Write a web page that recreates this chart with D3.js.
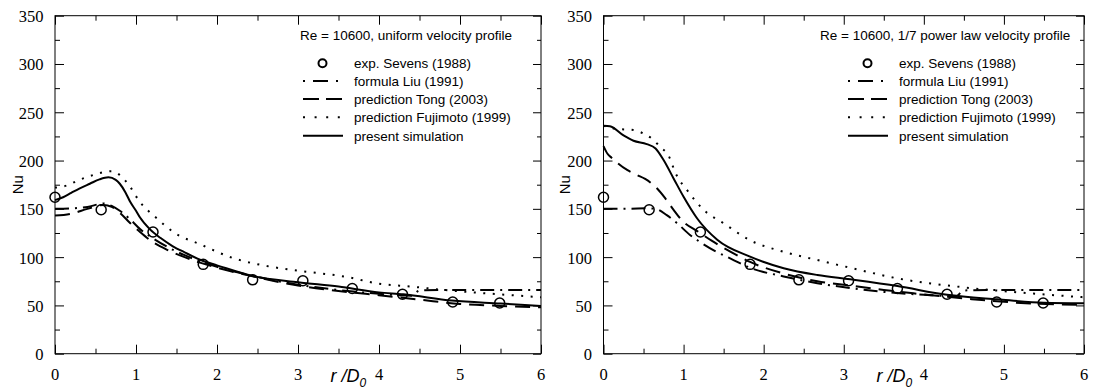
<!DOCTYPE html>
<html>
<head>
<meta charset="utf-8">
<script src="https://cdn.jsdelivr.net/npm/d3@7"></script>
<style>
  html, body { margin: 0; padding: 0; background: #fff; }
  svg { display: block; }
</style>
</head>
<body>
<svg id="chart" width="1093" height="391"></svg>
<script>
// ---------------- DATA ----------------
const xTickValues = [0, 1, 2, 3, 4, 5, 6];
const yTickValues = [0, 50, 100, 150, 200, 250, 300, 350];
const panelTitles = ["Re = 10600, uniform velocity profile", "Re = 10600, 1/7 power law velocity profile"];
const legendLabels = ["exp. Sevens (1988)", "formula Liu (1991)", "prediction Tong (2003)", "prediction Fujimoto (1999)", "present simulation"];

// experimental points (same in both panels)
const expR  = [0.0, 0.57, 1.21, 1.83, 2.44, 3.06, 3.67, 4.29, 4.91, 5.49];
const expNu = [162, 149, 126, 92.5, 76.5, 75.5, 67.5, 61.5, 53.5, 52.5];

// uniform velocity profile (left panel)
const uniLiu = [[0,150],[0.2,150.5],[0.4,152],[0.6,155.5],[0.7,153],[0.8,148],[0.93,139],[1.05,129],[1.2,120],[1.4,110],[1.6,102],[1.8,95.5],[2.0,90],[2.5,79.5],[3.0,71.5],[3.5,66],[4.0,62],[4.4,60],[4.5,65.5],[5.0,66],[6.0,66]];
const uniTong = [[0,143],[0.2,145],[0.4,150],[0.6,154],[0.7,152],[0.8,146],[0.93,135],[1.05,126],[1.2,116],[1.4,107],[1.6,100],[1.8,94],[2.0,89],[2.5,79],[3.0,70.5],[3.5,65],[4.0,60.5],[4.5,56],[5.0,51.5],[5.5,49.5],[6.0,48]];
const uniFuji = [[0,172],[0.14,174],[0.3,180],[0.47,185],[0.6,188],[0.7,189],[0.8,185],[0.9,176],[1.05,157],[1.26,140],[1.46,126],[1.8,113],[2.2,99],[2.6,91],[3.0,86],[3.6,79.5],[4.0,72.5],[4.4,69.5],[4.8,66],[5.4,62],[6.0,58.5]];
const uniSim = [[0,159],[0.1,162],[0.2,166.5],[0.3,171],[0.43,176],[0.55,180.5],[0.66,182.6],[0.75,180],[0.8,176],[0.87,167],[0.93,157],[1.0,148],[1.05,141],[1.17,129],[1.3,120],[1.45,111.5],[1.6,105],[1.83,96],[2.0,91.5],[2.44,80.5],[3.0,74],[3.5,69.5],[4.0,63.5],[4.3,61.5],[4.9,55],[5.5,52],[6.0,49.5]];

// 1/7 power law velocity profile (right panel)
const powLiu = [[0,150],[0.3,150],[0.55,150.5],[0.65,150],[0.79,143.5],[0.92,135],[1.08,123],[1.2,116],[1.4,106],[1.6,98],[1.83,89],[2.25,80],[2.67,73],[3.08,68],[3.5,64],[4.0,61],[4.4,59.5],[4.5,65.5],[5.0,66],[6.0,66]];
const powTong = [[0,215],[0.05,207],[0.1,203],[0.3,190],[0.42,185],[0.52,181],[0.67,171],[0.77,161],[0.875,149],[0.98,138],[1.17,127],[1.35,117],[1.6,105],[1.83,95],[2.25,83],[2.67,75],[3.08,70.5],[3.5,66],[3.87,62.5],[4.6,56.5],[5.33,52],[6.0,50.5]];
const powFuji = [[0,236],[0.15,233],[0.38,231.5],[0.5,228],[0.6,223],[0.71,214],[0.81,205.5],[0.9,187],[1.06,167.5],[1.25,149],[1.5,135],[1.83,117.5],[2.25,105.5],[2.67,97],[3.08,89],[3.67,78],[4.5,68.7],[5.33,62.5],[6.0,58.4]];
const powSim = [[0,236],[0.08,235.5],[0.25,226],[0.375,220.5],[0.54,217],[0.65,212.5],[0.75,200.5],[0.875,181.5],[1.0,162.5],[1.17,140],[1.42,118],[1.83,100.5],[2.25,88.5],[2.67,81.5],[3.08,77],[3.67,70],[4.29,61],[4.92,56.3],[5.5,52.8],[6.0,52.2]];

// ---------------- LAYOUT ----------------
const panels = [
  { x0: 55,    x1: 541,  title: panelTitles[0], titleX: 300, legSymX: 303, legTextX: 354, nuX: 23,  xlab: 3.4,
    series: [uniLiu, uniTong, uniFuji, uniSim] },
  { x0: 603.5, x1: 1084, title: panelTitles[1], titleX: 820, legSymX: 848, legTextX: 899, nuX: 570, xlab: 3.41,
    series: [powLiu, powTong, powFuji, powSim] }
];
const yTop = 15.7, yBot = 353.7;
const styles = [
  { dash: "14,6,2,6", legDash: "2,8,15,8" },   // Liu dash-dot
  { dash: "15,8",     legDash: "16,7" },       // Tong dashed
  { dash: "2,7.5",    legDash: "2,9.6" },      // Fujimoto dotted
  { dash: null,       legDash: null }          // simulation solid
];
const legendRows = [63.3, 81, 99, 117.3, 135.7];

const svg = d3.select("#chart");
svg.append("rect").attr("width", 1093).attr("height", 391).attr("fill", "#fff");

const serif = "'Liberation Serif', 'Times New Roman', serif";
const sans = "'Liberation Sans', Arial, Helvetica, sans-serif";

panels.forEach(p => {
  const x = d3.scaleLinear().domain([0, 6]).range([p.x0, p.x1]);
  const y = d3.scaleLinear().domain([0, 350]).range([yBot, yTop]);
  const g = svg.append("g");

  const xMinor = d3.range(0, 6.01, 0.5).filter(v => v % 1 !== 0);
  const yMinor = d3.range(25, 350, 50);

  const mkAxis = (axisFn, scale, vals, size, tf) => {
    const a = g.append("g").attr("transform", tf)
      .call(axisFn(scale).tickValues(vals).tickSize(size).tickFormat(""));
    a.select(".domain").remove();
    a.selectAll("line").attr("stroke", "#000").attr("stroke-width", 1);
    return a;
  };
  mkAxis(d3.axisTop, x, xTickValues, 9, `translate(0,${yBot})`);
  mkAxis(d3.axisTop, x, xMinor, 5, `translate(0,${yBot})`);
  mkAxis(d3.axisBottom, x, xTickValues, 9, `translate(0,${yTop})`);
  mkAxis(d3.axisBottom, x, xMinor, 5, `translate(0,${yTop})`);
  mkAxis(d3.axisRight, y, yTickValues, 9, `translate(${p.x0},0)`);
  mkAxis(d3.axisRight, y, yMinor, 5, `translate(${p.x0},0)`);
  mkAxis(d3.axisLeft, y, yTickValues, 8, `translate(${p.x1},0)`);
  mkAxis(d3.axisLeft, y, yMinor, 4, `translate(${p.x1},0)`);

  g.append("rect").attr("x", p.x0).attr("y", yTop)
    .attr("width", p.x1 - p.x0).attr("height", yBot - yTop)
    .attr("fill", "none").attr("stroke", "#000").attr("stroke-width", 1);

  g.selectAll(".xl").data(xTickValues).enter().append("text")
    .attr("x", d => x(d)).attr("y", 380)
    .attr("text-anchor", "middle").attr("font-family", serif).attr("font-size", 16.5)
    .text(d => d);
  g.selectAll(".yl").data(yTickValues).enter().append("text")
    .attr("x", p.x0 - 11.5).attr("y", d => y(d) + 6.5)
    .attr("text-anchor", "end").attr("font-family", serif).attr("font-size", 16.5)
    .text(d => d);

  g.append("text").attr("transform", `translate(${p.nuX},${(yTop + yBot) / 2}) rotate(-90)`)
    .attr("text-anchor", "middle").attr("font-family", sans).attr("font-size", 15).text("Nu");
  const xt = g.append("text").attr("x", x(p.xlab)).attr("y", 382)
    .attr("font-family", sans).attr("font-size", 18).attr("font-style", "italic");
  xt.append("tspan").text("r /D");
  xt.append("tspan").attr("font-size", 12).attr("dy", 5).text("0");

  const line = d3.line().x(d => x(d[0])).y(d => y(d[1])).curve(d3.curveMonotoneX);
  p.series.forEach((s, i) => {
    g.append("path").datum(s).attr("d", line)
      .attr("fill", "none").attr("stroke", "#000").attr("stroke-width", 2)
      .attr("stroke-dasharray", styles[i].dash);
  });

  g.selectAll(".pt").data(expR.map((r, i) => [r, expNu[i]])).enter().append("circle")
    .attr("cx", d => x(d[0])).attr("cy", d => y(d[1])).attr("r", 5)
    .attr("fill", "none").attr("stroke", "#000").attr("stroke-width", 1.5);

  g.append("text").attr("x", p.titleX).attr("y", 40)
    .attr("font-family", sans).attr("font-size", 13.5).text(p.title);
  legendLabels.forEach((lab, i) => {
    g.append("text").attr("x", p.legTextX).attr("y", legendRows[i] + 4.8)
      .attr("font-family", sans).attr("font-size", 13.5).text(lab);
  });
  g.append("circle").attr("cx", p.legSymX + 19.5).attr("cy", legendRows[0]).attr("r", 4)
    .attr("fill", "none").attr("stroke", "#000").attr("stroke-width", 2);
  styles.forEach((st, i) => {
    g.append("line").attr("x1", p.legSymX).attr("x2", p.legSymX + 40)
      .attr("y1", legendRows[i + 1]).attr("y2", legendRows[i + 1])
      .attr("stroke", "#000").attr("stroke-width", 2).attr("stroke-dasharray", st.legDash);
  });
});
</script>
</body>
</html>
